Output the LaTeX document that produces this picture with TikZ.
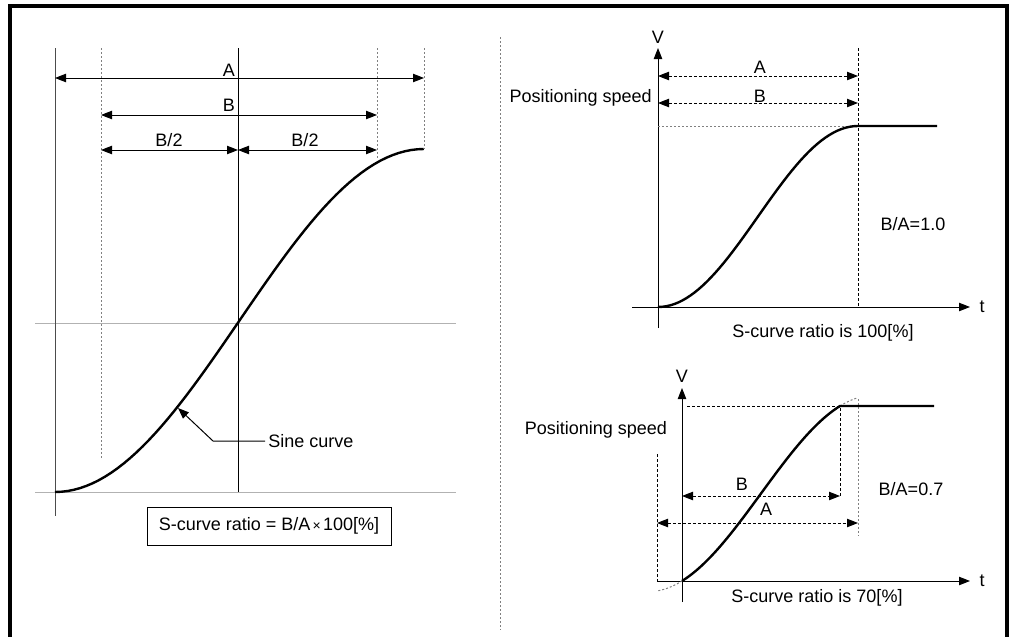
\documentclass[tikz,border=0pt]{standalone}
\usepackage{fontspec}
\setmainfont{Liberation Sans}
\usetikzlibrary{arrows.meta,positioning}
\tikzset{>={Triangle[length=5.5pt,width=4.2pt]},
  every node/.style={font=\fontsize{9}{10}\selectfont,inner sep=0pt},
  hairline/.style={line width=.5pt},
  guide/.style={draw=gray,line width=.5pt,dash pattern=on 1pt off 1pt},
  blackguide/.style={draw=black,line width=.5pt,dash pattern=on 1.5pt off 1pt},
  dimline/.style={<->,line width=.5pt},
  dimdash/.style={<->,line width=.5pt,dash pattern=on 1.5pt off 1pt},
  axisline/.style={->,line width=.5pt},
  scurve/.style={line width=1.2pt}}

\begin{document}
\begin{tikzpicture}[x=0.5pt,y=-0.5pt]
\useasboundingbox (0,0) rectangle (1009,637);
\draw[line width=2pt] (10,637) -- (10,5.5) -- (1006.5,5.5) -- (1006.5,637);
\draw[guide] (500,37) -- (500,630);

% left panel: definition of the ratio
\draw[hairline,gray!60] (35,323) -- (456,323);
\draw[hairline,gray!60] (35,492) -- (456,492);
\draw[hairline,black!70] (55,48) -- (55,516);
\draw[hairline] (238,48) -- (238,492);
\draw[guide] (101,48) -- (101,460);
\draw[guide] (377,48) -- (377,160);
\draw[guide] (424,48) -- (424,149);
\coordinate (a1) at (55,78);   \coordinate (a2) at (424,78);
\coordinate (b1) at (101,115); \coordinate (b2) at (377,115);
\coordinate (h1) at (101,150); \coordinate (hm) at (238,150); \coordinate (h2) at (377,150);
\draw[dimline] (a1) -- (a2);
\draw[dimline] (b1) -- (b2);
\draw[dimline] (h1) -- (hm);
\draw[dimline] (hm) -- (h2);
\node[anchor=base] (lA) at (229,76) {A};
\node[anchor=base] (lB) at (229,112) {B};
\node[anchor=base] (lh1) at (169,147) {B/2};
\node[anchor=base] (lh2) at (305,147) {B/2};
\draw[scurve] plot[domain=0:1,samples=60] ({55+369*\x},{492-343*(1-cos(180*\x))/2});
\coordinate (sc) at (178,408);
\node[anchor=west,inner sep=1.5pt] (sine) at (265,441) {Sine curve};
\draw[hairline,->] (sine.west) -- ++(-52,0) -- (sc);
\node[draw,hairline,minimum width=122pt,minimum height=19pt] (ratio) at (269,526)
  {S-curve ratio = B/A{\fontsize{7}{8}\selectfont\,×\,}100[\%]};

% right top: B/A = 1.0
\coordinate (v1) at (658,328); \coordinate (v1t) at (658,48);
\coordinate (t1) at (632,307); \coordinate (t1e) at (970,307);
\draw[axisline] (v1) -- (v1t);
\draw[axisline] (t1) -- (t1e);
\node[anchor=base] (V1) at (658,43) {V};
\node (T1) at (982,307) {t};
\draw[blackguide] (858,48) -- (858,307);
\draw[guide] (658,126) -- (858,126);
\coordinate (ta1) at (658,76);  \coordinate (ta2) at (858,76);
\coordinate (tb1) at (658,103); \coordinate (tb2) at (858,103);
\draw[dimdash] (ta1) -- (ta2);
\draw[dimdash] (tb1) -- (tb2);
\node[anchor=base] (tA) at (760,74) {A};
\node[anchor=base] (tB) at (760,102) {B};
\node[anchor=base east] (ps1) at (652,103) {Positioning speed};
\draw[scurve] plot[domain=0:1,samples=50] ({658+200*\x},{307-181*(1-cos(180*\x))/2}) -- (937,126);
\node[anchor=base] (r1) at (913,230) {B/A=1.0};
\node[anchor=base] (c1) at (823,337) {S-curve ratio is 100[\%]};

% right bottom: B/A = 0.7
\coordinate (v2) at (682,602); \coordinate (v2t) at (682,388);
\coordinate (t2) at (657,581); \coordinate (t2e) at (970,581);
\draw[axisline] (v2) -- (v2t);
\draw[axisline] (t2) -- (t2e);
\node[anchor=base] (V2) at (682,382) {V};
\node (T2) at (982,581) {t};
\draw[blackguide] (687,406) -- (840,406) -- (840,496);
\draw[blackguide] (657,454) -- (657,581);
\draw[guide] (858,399) -- (858,536);
\coordinate (bb1) at (682,496); \coordinate (bb2) at (840,496);
\coordinate (ba1) at (657,523); \coordinate (ba2) at (858,523);
\draw[dimdash] (bb1) -- (bb2);
\draw[dimdash] (ba1) -- (ba2);
\node[anchor=base] (bB) at (742,490) {B};
\node[anchor=base] (bA) at (766,515) {A};
\draw[guide] plot[domain=-1.3:-1,samples=10] ({761+79*\x},{493.5-87.5*sin(63*\x)/sin(63)});
\draw[guide] plot[domain=1:1.22,samples=10] ({761+79*\x},{493.5-87.5*sin(63*\x)/sin(63)});
\draw[scurve] plot[domain=-1:1,samples=50] ({761+79*\x},{493.5-87.5*sin(63*\x)/sin(63)}) -- (934,406);
\node[anchor=base] (ps2) at (596,434) {Positioning speed};
\node[anchor=base] (r2) at (911,495) {B/A=0.7};
\node[anchor=base] (c2) at (817,602) {S-curve ratio is 70[\%]};
\end{tikzpicture}
\end{document}
